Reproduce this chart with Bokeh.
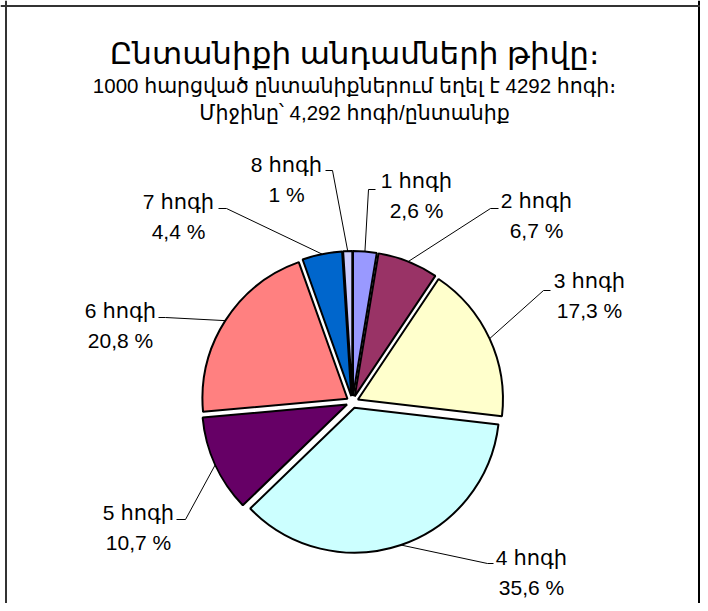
import math
from bokeh.plotting import figure
from bokeh.models import Range1d, Label, Span, ColumnDataSource
from bokeh.core.properties import value
from bokeh.embed import file_html
from bokeh.resources import INLINE

# ---- data ----
names = ["1 հոգի", "2 հոգի", "3 հոգի", "4 հոգի", "5 հոգի", "6 հոգի", "7 հոգի", "8 հոգի"]
pct = [2.6, 6.7, 17.3, 35.6, 10.7, 20.8, 4.4, 1.0]
colors = ["#9999FF", "#993366", "#FFFFCC", "#CCFFFF", "#660066", "#FF8080", "#0066CC", "#CCCCFF"]
title_text = "Ընտանիքի անդամների թիվը։"
subtitle1 = "1000 հարցված ընտանիքներում եղել է 4292 հոգի։"
subtitle2 = "Միջինը՝ 4,292 հոգի/ընտանիք"

# ---- layout (picture pixel coordinates; data y = -picture y) ----
FONT = "Liberation Sans, DejaVu Sans"
CX, CY = 352.0, 401.5
R = 145.0
EXPLODE = 6.0
label_x = [416, 536, 589, 531, 138, 120, 178, 286]
label_base = [180, 200, 280, 557, 512, 310, 201, 164]
LINE_GAP = 30
leader_start = [(375, 189), (498, 208), (550, 290), (493, 563), (176, 519), (158, 317), (218, 208), (325, 170)]
leader_elbow = [(368, 189), (490, 208), (543, 290), (487, 563), (185, 519), (165, 317), (226, 208), (332, 170)]

W, H = 700, 603
p = figure(width=W, height=H, output_backend="svg", toolbar_location=None,
           x_range=Range1d(0, W), y_range=Range1d(-H, 0),
           min_border=0, outline_line_color=None)
p.axis.visible = False
p.grid.visible = False
p.background_fill_color = "white"
p.border_fill_color = "white"

total = sum(pct)
starts, ends, xs, ys, mids = [], [], [], [], []
cum = 0.0
for v in pct:
    a0 = math.pi / 2 - 2 * math.pi * cum / total
    cum += v
    a1 = math.pi / 2 - 2 * math.pi * cum / total
    m = (a0 + a1) / 2
    starts.append(a0)
    ends.append(a1)
    mids.append(m)
    xs.append(CX + EXPLODE * math.cos(m))
    ys.append(-CY + EXPLODE * math.sin(m))

src = ColumnDataSource(dict(x=xs, y=ys, s=starts, e=ends, c=colors))
p.wedge(x="x", y="y", radius=R, start_angle="s", end_angle="e", direction="clock",
        fill_color="c", line_color="black", line_width=2, source=src)

# leader lines
lx, ly = [], []
for i, m in enumerate(mids):
    ex = xs[i] + R * math.cos(m)
    ey = ys[i] + R * math.sin(m)
    sx, sy = leader_start[i]
    bx, by = leader_elbow[i]
    lx.append([sx, bx, ex])
    ly.append([-sy, -by, ey])
p.multi_line(xs=lx, ys=ly, line_color="black", line_width=1)

# labels
pct_text = [("%g" % v).replace(".", ",") + " %" for v in pct]
p.text(x=label_x, y=[-b for b in label_base], text=names, text_align="center",
       text_baseline="alphabetic", text_font=value(FONT), text_font_size="21px", text_color="black")
p.text(x=label_x, y=[-(b + LINE_GAP) for b in label_base], text=pct_text, text_align="center",
       text_baseline="alphabetic", text_font=value(FONT), text_font_size="21px", text_color="black")

# titles
p.add_layout(Label(x=354, y=-53, text=title_text, text_align="center", text_baseline="alphabetic",
                   text_font=FONT, text_font_size="31px", text_color="black"))
p.add_layout(Label(x=354, y=-85, text=subtitle1, text_align="center", text_baseline="alphabetic",
                   text_font=FONT, text_font_size="20.5px", text_color="black"))
p.add_layout(Label(x=354, y=-112, text=subtitle2, text_align="center", text_baseline="alphabetic",
                   text_font=FONT, text_font_size="20.5px", text_color="black"))

# chart-area frame (left, top, right)
p.add_layout(Span(location=5.5, dimension="height", line_color="#333333", line_width=2))
p.add_layout(Span(location=698.5, dimension="height", line_color="black", line_width=2))
p.add_layout(Span(location=-5.5, dimension="width", line_color="#333333", line_width=2))

open("out.html", "w").write(file_html(p, INLINE))
